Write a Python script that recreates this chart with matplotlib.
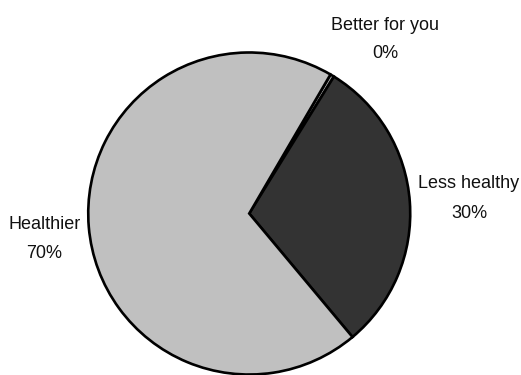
import matplotlib.pyplot as plt

labels = ['Better for you', 'Less healthy', 'Healthier']
values = [0.4, 30.1, 69.5]
colors = ['#a0a0a0', '#333333', '#c0c0c0']

# baseline positions (data units, pie radius = 1) for the name and the percentage
name_pos = [(0.843, 1.140), (1.365, 0.158), (-1.272, -0.096)]
pct_y = [0.966, -0.028, -0.276]

fig = plt.figure(figsize=(5.21, 3.75), dpi=100)
ax = fig.add_axes([0, 0, 1, 1])

ax.pie(values, colors=colors, startangle=59.7, counterclock=False,
       wedgeprops=dict(edgecolor='black', linewidth=1.9))
ax.set_xlim(-1.548, 1.688)
ax.set_ylim(-1.003, 1.326)
ax.set_aspect('auto')
ax.axis('off')

total = sum(values)
font = dict(family='Liberation Sans', fontsize=13, color='#111111')
for lab, v, (x, y), py in zip(labels, values, name_pos, pct_y):
    ax.text(x, y, lab, ha='center', va='baseline', **font)
    ax.text(x, py, '{:.0f}%'.format(v / total * 100), ha='center', va='baseline', **font)

fig.savefig('out.png', dpi=100)
